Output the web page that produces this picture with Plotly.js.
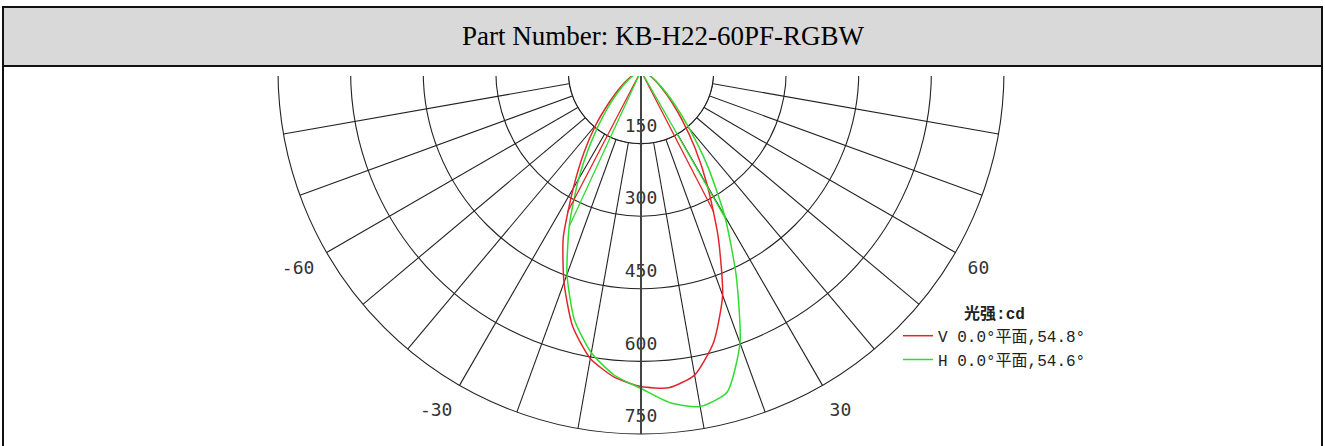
<!DOCTYPE html>
<html><head><meta charset="utf-8">
<script src="https://cdn.plot.ly/plotly-3.0.1.min.js"></script>
<style>html,body{margin:0;padding:0;background:#fff;} #chart{width:1325px;height:446px;}</style>
</head><body><div id="chart"></div><script>
// ---- data ----
const angles  = [-90,-85,-80,-75,-70,-65,-60,-55,-50,-45,-40,-35,-30,-25,-20,-15,-10,-5,0,5,10,15,20,25,30,35,40,45,50,55,60,65,70,75,80,85,90];
const vValues = [0,2,4,7,11,17,26,40,62,95,145,205,280,380,465,546,603,635,652,657,638,580,493,377,275,195,132,88,58,38,24,16,10,6,4,2,0];
const hValues = [0,1,3,5,8,13,20,32,52,80,122,180,258,350,447,532,591,631,656,688,704,687,598,465,346,240,155,100,65,42,27,17,11,7,4,2,0];
const vBeamEdges = [-27.5, 27.3];   // half-intensity angles, V plane (54.8°)
const hBeamEdges = [-24.8, 29.8];   // half-intensity angles, H plane (54.6°)
const ringTicks = [150,300,450,600,750];
const spokeAngles = [-90,-80,-70,-60,-50,-40,-30,-20,-10,0,10,20,30,40,50,60,70,80,90];
const spokeLabels = ['','','','-60','','','-30','','','','','','30','','','60','','',''];
const seriesNames = ['V 0.0°平面,54.8°','H 0.0°平面,54.6°'];
const legendTitle = '光强:cd';
const partNumber = 'Part Number: KB-H22-60PF-RGBW';

// ---- layout helpers ----
const W = 1325, H = 446;
const px = v => v / W, py = v => 1 - v / H;
const cx = 641, cy = 71, R = 363;
const RED = '#e3262b', GREEN = '#2fdc2f';
// the same angles, one turn later, so that they fall inside the drawn sector
const turn = a => a + 360;

const vHalf = Math.max(...vValues) / 2;
const hHalf = Math.max(...hValues) / 2;

const traces = [
  { type:'barpolar', r:[ringTicks[0]], theta:[0], width:[180],
    marker:{color:'#ffffff', line:{color:'#222', width:1.1}}, showlegend:false, hoverinfo:'skip' },
  { type:'scatterpolar', mode:'lines', theta:angles, r:vValues, name:seriesNames[0],
    line:{color:RED, width:1.5, shape:'spline', smoothing:0.6} },
  { type:'scatterpolar', mode:'lines', theta:angles, r:hValues, name:seriesNames[1],
    line:{color:GREEN, width:1.5, shape:'spline', smoothing:0.6} },
  { type:'scatterpolar', mode:'lines', theta:[vBeamEdges[0],0,vBeamEdges[1]], r:[vHalf,0,vHalf],
    line:{color:RED, width:1.3}, showlegend:false, hoverinfo:'skip' },
  { type:'scatterpolar', mode:'lines', theta:[hBeamEdges[0],0,hBeamEdges[1]], r:[hHalf,0,hHalf],
    line:{color:GREEN, width:1.3}, showlegend:false, hoverinfo:'skip' },
  { type:'scatterpolar', mode:'markers+text', theta:ringTicks.map(()=>0), r:ringTicks, text:ringTicks.map(String),
    marker:{size:10, color:'rgba(0,0,0,0)'},
    textposition:'top center', textfont:{family:'DejaVu Sans Mono', size:18, color:'#333'},
    showlegend:false, hoverinfo:'skip' }
];

const layout = {
  width:W, height:H, margin:{l:0,r:0,t:0,b:0},
  paper_bgcolor:'#fff',
  showlegend:true,
  polar:{
    domain:{x:[px(cx-R), px(cx+R)], y:[py(cy+R), py(cy)]},
    sector:[180,360],
    bgcolor:'#fff',
    angularaxis:{
      rotation:-90, direction:'counterclockwise', thetaunit:'degrees',
      tickmode:'array', tickvals:spokeAngles.map(turn), ticktext:spokeLabels,
      showgrid:true, gridcolor:'#222', gridwidth:1.1,
      showline:true, linecolor:'#222', linewidth:1.1,
      ticks:'outside', ticklen:10, tickcolor:'rgba(0,0,0,0)',
      tickfont:{family:'DejaVu Sans Mono', size:18, color:'#333'}
    },
    radialaxis:{
      range:[0,750], tickmode:'array', tickvals:ringTicks,
      showticklabels:false, ticks:'',
      showgrid:true, gridcolor:'#222', gridwidth:1.1,
      showline:true, linecolor:'#444', linewidth:2, angle:270
    }
  },
  legend:{
    x:px(898), xanchor:'left', y:py(298), yanchor:'top',
    bgcolor:'rgba(0,0,0,0)', itemwidth:30, tracegroupgap:0,
    font:{family:'Liberation Mono, Noto Sans CJK SC', size:16, color:'#222'},
    title:{text:legendTitle, side:'top center',
      font:{family:'Liberation Mono, Noto Sans CJK SC', size:16, color:'#222', weight:'bold'}}
  },
  shapes:[
    {type:'rect', xref:'paper', yref:'paper', x0:0, x1:1, y0:py(76), y1:1, fillcolor:'#fff', line:{width:0}, layer:'above'},
    {type:'rect', xref:'paper', yref:'paper', x0:px(3), x1:px(1322), y0:py(66), y1:py(7), fillcolor:'#d9d9d9', line:{color:'#111', width:2}, layer:'above'},
    {type:'line', xref:'paper', yref:'paper', x0:px(3), x1:px(3), y0:0, y1:py(66), line:{color:'#111', width:2}, layer:'above'},
    {type:'line', xref:'paper', yref:'paper', x0:px(1322), x1:px(1322), y0:0, y1:py(66), line:{color:'#111', width:2}, layer:'above'}
  ],
  annotations:[
    {text:partNumber, xref:'paper', yref:'paper', x:0.5, y:py(36.5), xanchor:'center', yanchor:'middle',
     showarrow:false, font:{family:'Liberation Serif', size:27, color:'#000'}}
  ]
};

Plotly.newPlot('chart', traces, layout, {staticPlot:true, displayModeBar:false});
</script></body></html>
